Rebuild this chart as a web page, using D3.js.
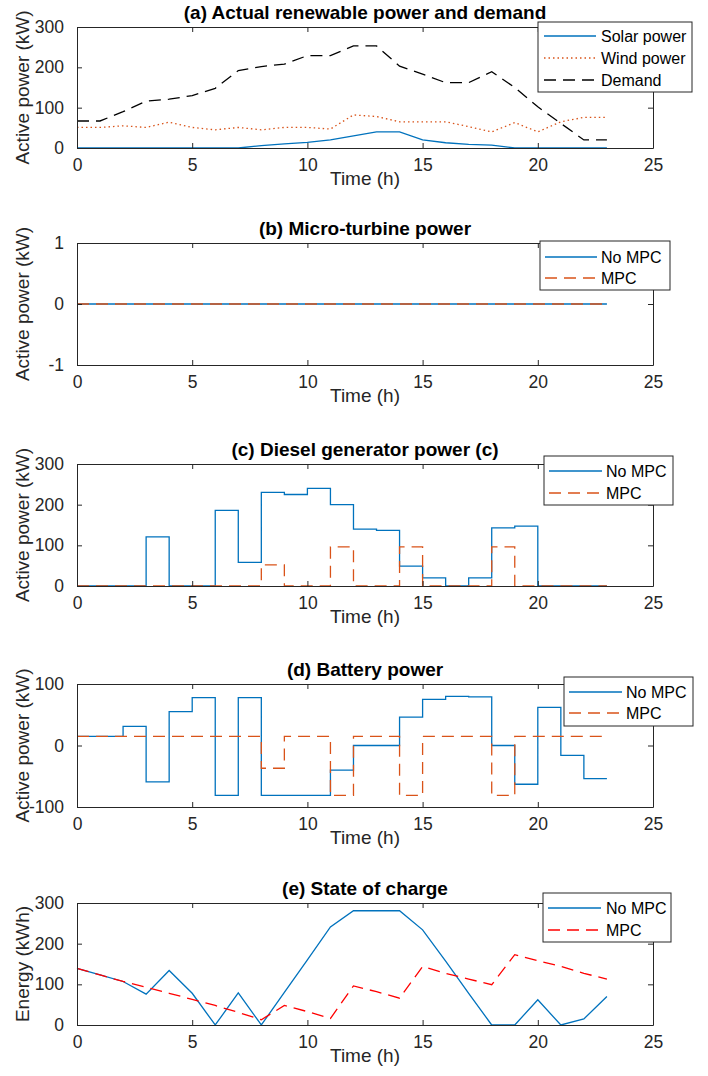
<!DOCTYPE html>
<html>
<head>
<meta charset="utf-8">
<script src="https://cdn.jsdelivr.net/npm/d3@7"></script>
<style>
  body { margin: 0; background: #fff; }
  text { font-family: "Liberation Sans", Arial, sans-serif; }
</style>
</head>
<body>
<div id="chart"></div>
<script>
// ------ data (hourly, t = 0..23)
var hours = [0,1,2,3,4,5,6,7,8,9,10,11,12,13,14,15,16,17,18,19,20,21,22,23]
var xTicks = [0,5,10,15,20,25]

var solarPower = [0,0,0,0,0,0,0,0,6,10,14,20,30,40,40,20,13,9,7,0,0,0,0,0]
var windPower = [51,51,55,51,64,51,45,51,45,51,51,47,82,78,65,65,65,53,40,63,40,65,76,76]
var demand = [67,67,90,116,121,130,148,192,202,208,229,229,253,253,203,183,162,162,189,150,102,61,20,20]

var microNoMpc = [0,0,0,0,0,0,0,0,0,0,0,0,0,0,0,0,0,0,0,0,0,0,0,0]
var microMpc = [0,0,0,0,0,0,0,0,0,0,0,0,0,0,0,0,0,0,0,0,0,0,0,0]

var dieselNoMpc = [0,0,0,121,0,0,186,58,230,225,240,200,140,137,49,20,0,20,143,147,0,0,0,0]
var dieselMpc = [0,0,0,0,0,0,0,0,52,0,0,96,0,0,96,0,0,0,96,0,0,0,0,0]

var batteryNoMpc = [15,15,31,-59,55,78,-81,78,-81,-81,-81,-40,0,0,46,75,80,79,0,-63,62,-16,-54,-54]
var batteryMpc = [15,15,15,15,15,15,15,15,-37,15,15,-81,15,15,-81,15,15,15,-81,15,15,15,15,15]

var socNoMpc = [139,123,107,76,134,78,0,79,0,80,160,241,281,281,281,234,157,78,0,0,62,0,15,70]
var socMpc = [139,123,107,93,78,63,48,31,13,48,33,16,96,82,66,144,127,113,99,173,158,144,127,113]

var ticksA = [0,100,200,300]
var ticksB = [-1,0,1]
var ticksC = [0,100,200,300]
var ticksD = [-100,0,100]
var ticksE = [0,100,200,300]

// ------ styles
var BLUE = '#0072BD'
var ORANGE = '#D95319'
var AX = '#262626'
var DASH = '12,7'
var DOT = '1.5,3'

var width = 708
var height = 1076
var left = 77
var right = 653

// plain labels with an ascii hyphen, like the original
var fmt = function (d) { return String(d) }

var panels = [
  {
    top: 27, bottom: 148, domain: [0, 300], ticks: ticksA,
    title: '(a) Actual renewable power and demand', ylabel: 'Active power (kW)',
    series: [
      { name: 'Solar power', values: solarPower, color: BLUE, dash: null },
      { name: 'Wind power', values: windPower, color: ORANGE, dash: DOT },
      { name: 'Demand', values: demand, color: '#000', dash: DASH }
    ],
    legend: { x0: 538, x1: 692, y0: 22, y1: 92, rows: [36, 58, 80], s0: 544, s1: 596, tx: 601 }
  },
  {
    top: 243, bottom: 365, domain: [-1, 1], ticks: ticksB,
    title: '(b) Micro-turbine power', ylabel: 'Active power (kW)',
    series: [
      { name: 'No MPC', values: microNoMpc, color: BLUE, dash: null, step: true },
      { name: 'MPC', values: microMpc, color: ORANGE, dash: DASH, step: true }
    ],
    legend: { x0: 540, x1: 670, y0: 241, y1: 290, rows: [257, 278], s0: 545, s1: 597, tx: 601 }
  },
  {
    top: 464, bottom: 586, domain: [0, 300], ticks: ticksC,
    title: '(c) Diesel generator power (c)', ylabel: 'Active power (kW)',
    series: [
      { name: 'No MPC', values: dieselNoMpc, color: BLUE, dash: null, step: true },
      { name: 'MPC', values: dieselMpc, color: ORANGE, dash: DASH, step: true }
    ],
    legend: { x0: 544, x1: 673, y0: 456, y1: 505, rows: [471, 493], s0: 549, s1: 602, tx: 606 }
  },
  {
    top: 684, bottom: 807, domain: [-100, 100], ticks: ticksD,
    title: '(d) Battery power', ylabel: 'Active power (kW)',
    series: [
      { name: 'No MPC', values: batteryNoMpc, color: BLUE, dash: null, step: true },
      { name: 'MPC', values: batteryMpc, color: ORANGE, dash: DASH, step: true }
    ],
    legend: { x0: 564, x1: 693, y0: 677, y1: 726, rows: [692, 713], s0: 569, s1: 622, tx: 626 }
  },
  {
    top: 903, bottom: 1025, domain: [0, 300], ticks: ticksE,
    title: '(e) State of charge', ylabel: 'Energy (kWh)',
    series: [
      { name: 'No MPC', values: socNoMpc, color: BLUE, dash: null },
      { name: 'MPC', values: socMpc, color: '#FF0000', dash: DASH }
    ],
    legend: { x0: 543, x1: 671, y0: 893, y1: 942, rows: [908, 930], s0: 548, s1: 601, tx: 606 }
  }
]

var svg = d3.select('#chart').append('svg')
  .attr('width', width)
  .attr('height', height)
  .style('display', 'block')

var x = d3.scaleLinear().domain([0, 25]).range([left, right])

panels.forEach(function (p) {
  var y = d3.scaleLinear().domain(p.domain).range([p.bottom, p.top])
  var g = svg.append('g')

  // lines
  p.series.forEach(function (s) {
    var line = d3.line()
      .x(function (d, i) { return x(hours[i]) })
      .y(function (d) { return y(d) })
      .curve(s.step ? d3.curveStepAfter : d3.curveLinear)
    g.append('path')
      .datum(s.values)
      .attr('d', line)
      .attr('fill', 'none')
      .attr('stroke', s.color)
      .attr('stroke-width', 1.3)
      .attr('stroke-dasharray', s.dash)
  })

  // axes: bottom/top/left/right with inward ticks
  var bottomAx = d3.axisBottom(x).tickValues(xTicks).tickSize(-5).tickSizeOuter(0).tickPadding(11).tickFormat(fmt)
  var topAx = d3.axisTop(x).tickValues(xTicks).tickSize(-5).tickSizeOuter(0).tickFormat('')
  var leftAx = d3.axisLeft(y).tickValues(p.ticks).tickSize(-5).tickSizeOuter(0).tickPadding(13).tickFormat(fmt)
  var rightAx = d3.axisRight(y).tickValues(p.ticks).tickSize(-5).tickSizeOuter(0).tickFormat('')

  var axes = [
    g.append('g').attr('transform', 'translate(0,' + p.bottom + ')').call(bottomAx),
    g.append('g').attr('transform', 'translate(0,' + p.top + ')').call(topAx),
    g.append('g').attr('transform', 'translate(' + left + ',0)').call(leftAx),
    g.append('g').attr('transform', 'translate(' + right + ',0)').call(rightAx)
  ]
  axes.forEach(function (a) {
    a.select('.domain').attr('stroke', AX).attr('stroke-width', 1)
    a.selectAll('.tick line').attr('stroke', AX).attr('stroke-width', 1)
    a.selectAll('.tick text')
      .attr('fill', AX)
      .style('font-size', '17.5px')
      .style('font-family', '"Liberation Sans", Arial, sans-serif')
  })

  // title
  g.append('text')
    .attr('x', (left + right) / 2)
    .attr('y', p.top - 8)
    .attr('text-anchor', 'middle')
    .style('font-size', '19px')
    .style('font-weight', 'bold')
    .attr('fill', '#000')
    .text(p.title)

  // axis labels
  g.append('text')
    .attr('x', (left + right) / 2)
    .attr('y', p.bottom + 30)
    .attr('dy', '0.35em')
    .attr('text-anchor', 'middle')
    .style('font-size', '19px')
    .attr('fill', AX)
    .text('Time (h)')

  g.append('text')
    .attr('transform', 'translate(22,' + (p.top + p.bottom) / 2 + ') rotate(-90)')
    .attr('dy', '0.35em')
    .attr('text-anchor', 'middle')
    .style('font-size', '19px')
    .attr('fill', AX)
    .text(p.ylabel)

  // legend
  var L = p.legend
  var lg = g.append('g')
  lg.append('rect')
    .attr('x', L.x0).attr('y', L.y0)
    .attr('width', L.x1 - L.x0).attr('height', L.y1 - L.y0)
    .attr('fill', '#fff')
    .attr('stroke', AX)
    .attr('stroke-width', 1)
  p.series.forEach(function (s, i) {
    lg.append('line')
      .attr('x1', L.s0).attr('x2', L.s1)
      .attr('y1', L.rows[i]).attr('y2', L.rows[i])
      .attr('stroke', s.color)
      .attr('stroke-width', 1.3)
      .attr('stroke-dasharray', s.dash)
    lg.append('text')
      .attr('x', L.tx)
      .attr('y', L.rows[i])
      .attr('dy', '0.35em')
      .style('font-size', '16px')
      .attr('fill', '#000')
      .text(s.name)
  })
})
</script>
</body>
</html>
